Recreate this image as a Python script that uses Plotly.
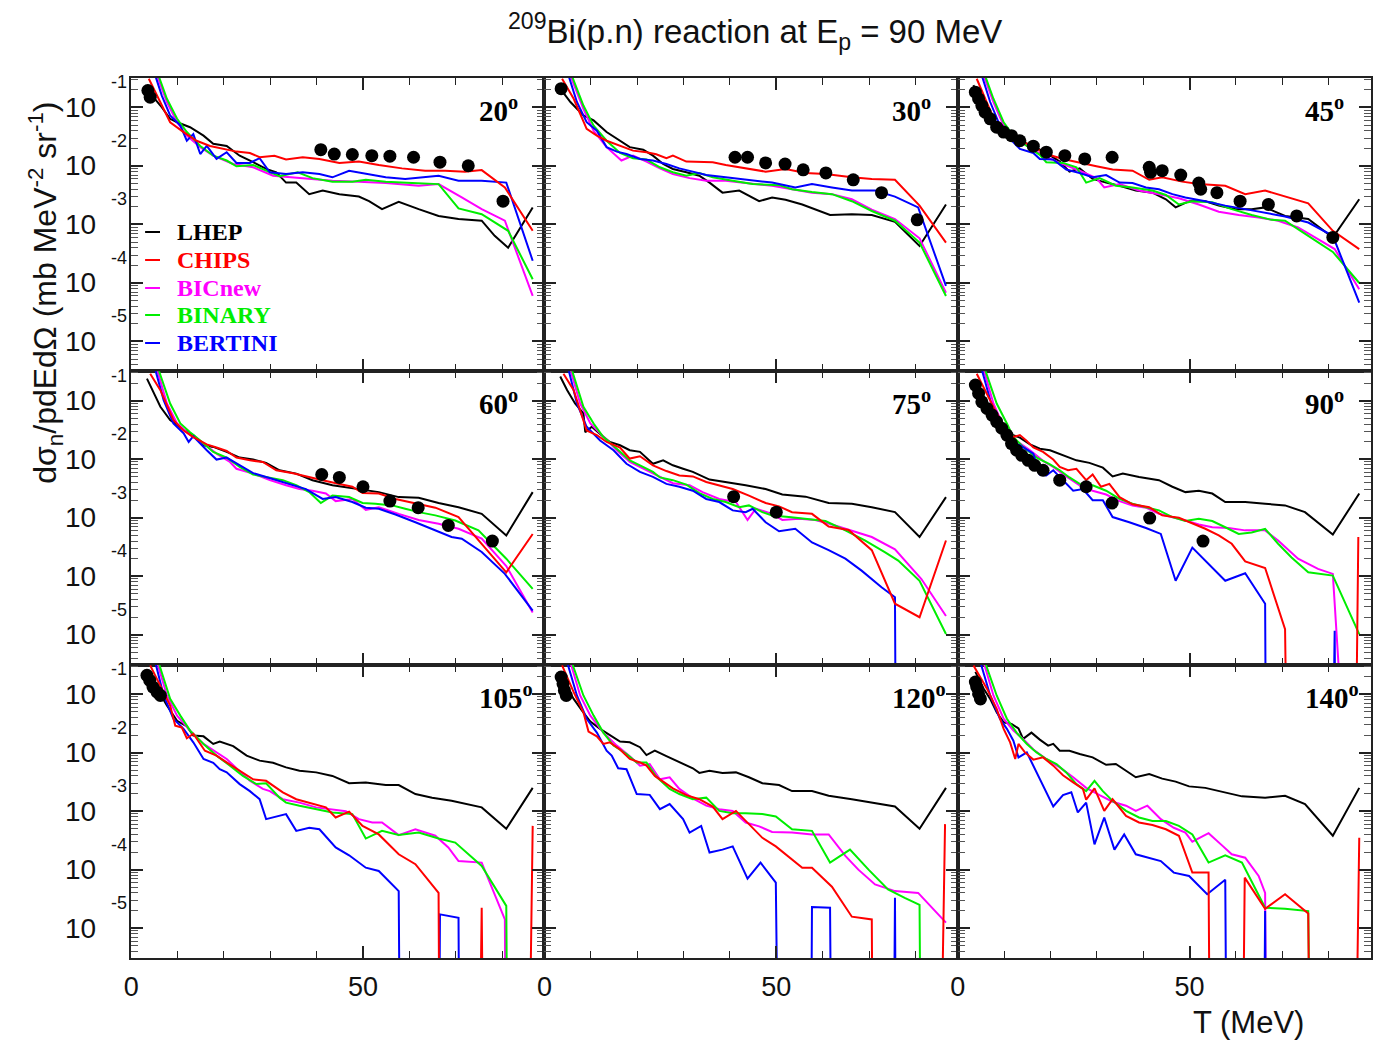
import plotly.graph_objects as go
from plotly.subplots import make_subplots

W, H = 1373, 1042
ZERO = 1e-9  # model gives no yield there (drawn below the axis, as in the original)

# ---------------- data: (T [MeV], d2sigma [mb MeV^-1 sr^-1]) ----------------
# 20 deg
LHEP_20 = [(3.4,0.24),(4.5,0.16),(6.3,0.108),(8.4,0.064),(9.9,0.056),(12.7,0.046),(15.6,0.033),(17.7,0.024),(20.6,0.022),(23.4,0.015),(26.3,0.0116),(29.1,0.0089),(31.3,0.0078),(33.4,0.0052),(35.6,0.0052),(38.4,0.0033),(41.3,0.0038),(44.9,0.0033),(49.1,0.0030),(51.3,0.0025),(54.1,0.00183),(57.7,0.00245),(62,0.00183),(66.3,0.0014),(70.6,0.00124),(75.6,0.00116),(78.4,0.00064),(81.3,0.0004),(86.6,0.00195)]
CHIPS_20 = [(3.8,0.31),(5.6,0.16),(8.4,0.056),(11.3,0.038),(14.1,0.027),(17,0.022),(19.9,0.0196),(22.7,0.0176),(25.6,0.0167),(27.7,0.0141),(30.9,0.015),(33.4,0.0129),(37,0.0141),(40.6,0.0132),(44.9,0.0113),(49.1,0.0119),(53.4,0.0104),(58.4,0.0091),(63.4,0.0083),(67.7,0.0083),(72,0.008),(75.6,0.0085),(80.6,0.0043),(86.6,0.00078)]
BIC_20 = [(5.6,0.35),(7.7,0.124),(9.9,0.056),(12,0.033),(14.9,0.021),(17.7,0.015),(22,0.0108),(26.3,0.0095),(30.6,0.0068),(34.9,0.0064),(39.1,0.006),(43.4,0.0056),(49.1,0.0054),(54.9,0.0051),(62,0.0046),(66.3,0.0049),(71.3,0.0029),(75.6,0.00183),(80.6,0.00116),(86.6,0.00006)]
BINARY_20 = [(5.9,0.35),(7.7,0.141),(9.9,0.064),(12,0.038),(14.9,0.022),(17.7,0.015),(20.6,0.0124),(22.7,0.0099),(26.3,0.0104),(29.1,0.0083),(32,0.0067),(35.9,0.0078),(39.1,0.0062),(43.4,0.0054),(47.7,0.0054),(50.6,0.0058),(54.9,0.0054),(60.6,0.0051),(66.3,0.0049),(70.6,0.00188),(75.6,0.0015),(81.3,0.00078),(86.6,0.000116)]
BERTINI_20 = [(5.2,0.35),(6.6,0.16),(8.4,0.073),(10.6,0.049),(12,0.027),(13.4,0.035),(14.9,0.016),(16.3,0.022),(18.4,0.0132),(20.6,0.0172),(22.7,0.0113),(25.6,0.0113),(27.7,0.0136),(29.9,0.0078),(33.4,0.0073),(37,0.0078),(40.6,0.0073),(43.4,0.0064),(47,0.0083),(50.6,0.0073),(54.9,0.0064),(59.1,0.006),(66.3,0.0068),(70.6,0.0056),(75.6,0.0056),(80.9,0.0052),(86.6,0.00024)]
EXP_20 = [(3.6,0.195),(4.1,0.15),(40.9,0.019),(43.8,0.016),(47.7,0.0157),(51.9,0.015),(55.8,0.0147),(60.9,0.0141),(66.6,0.0116),(72.7,0.0101),(80.2,0.0025)]

# 30 deg
LHEP_30 = [(3.4,0.21),(5.6,0.124),(8.4,0.073),(10.6,0.06),(13.4,0.038),(16.3,0.027),(18.4,0.021),(21.3,0.019),(23.4,0.015),(25.6,0.0108),(27.7,0.0089),(30.6,0.0078),(33.4,0.0068),(35.6,0.0052),(38.4,0.0035),(42,0.0038),(46.3,0.0025),(49.1,0.0029),(52,0.00265),(55.6,0.0022),(58.4,0.00183),(61.6,0.00145),(66.3,0.0015),(70.6,0.00145),(75.6,0.00111),(80.9,0.00043),(86.6,0.0022)]
CHIPS_30 = [(3.8,0.31),(6.3,0.141),(9.1,0.043),(11.3,0.033),(13.4,0.027),(16.3,0.0218),(19.1,0.0183),(22,0.0172),(24.1,0.0159),(26.3,0.0136),(27.7,0.015),(30.6,0.0119),(33.4,0.0116),(36.3,0.0116),(39.1,0.0104),(43.4,0.0091),(47.7,0.008),(52,0.0089),(56.3,0.0076),(60.6,0.0073),(66.3,0.0064),(70.6,0.006),(75.6,0.0058),(80.9,0.0021),(86.6,0.00049)]
BIC_30 = [(5.6,0.35),(8.4,0.095),(10.6,0.04),(13.4,0.021),(16.6,0.0124),(19.1,0.015),(22,0.0119),(24.9,0.0091),(27.7,0.0073),(31.3,0.0062),(34.9,0.0056),(39.1,0.0056),(43.4,0.0051),(49.1,0.0046),(53.4,0.004),(57.7,0.0035),(62,0.0033),(66.3,0.0027),(70.6,0.00179),(75.6,0.00124),(80.9,0.00058),(86.6,0.000068)]
BINARY_30 = [(5.9,0.35),(8.4,0.108),(10.6,0.049),(13.4,0.027),(16.3,0.0167),(19.1,0.0136),(22,0.0129),(24.9,0.0095),(27.7,0.0078),(30.6,0.0068),(33.4,0.0076),(36.3,0.0064),(40.6,0.0056),(44.9,0.0049),(50.6,0.0047),(53.4,0.004),(57.7,0.0036),(62,0.0033),(66.3,0.0025),(70.6,0.0017),(75.6,0.00116),(80.9,0.00049),(86.6,0.00006)]
BERTINI_30 = [(5.2,0.35),(7,0.124),(9.1,0.056),(11.3,0.04),(13.4,0.021),(15.6,0.0176),(17.7,0.016),(20.6,0.0132),(23.4,0.0124),(26.3,0.0108),(29.1,0.0091),(32,0.008),(34.9,0.007),(39.1,0.0064),(43.4,0.0058),(49.1,0.0052),(54.1,0.0043),(57.7,0.0049),(62,0.0043),(66.3,0.0038),(71.3,0.0038),(75.6,0.003),(80.6,0.00196),(86.6,0.000089)]
EXP_30 = [(3.6,0.21),(41.1,0.0141),(43.8,0.0141),(47.7,0.0113),(51.9,0.0108),(55.8,0.0086),(60.7,0.0076),(66.6,0.0058),(72.7,0.0035),(80.4,0.0012)]

# 45 deg
LHEP_45 = [(3.4,0.24),(4.9,0.124),(6.3,0.073),(8.4,0.043),(10.6,0.03),(13.4,0.027),(16.3,0.0218),(19.1,0.0167),(22,0.0119),(24.1,0.008),(26.3,0.0091),(29.1,0.006),(32,0.0052),(34.9,0.0046),(38.4,0.0038),(42,0.0035),(44.9,0.0027),(47,0.00196),(49.9,0.0025),(53.4,0.0025),(56.3,0.0021),(59.9,0.00183),(63.4,0.00183),(66.3,0.00196),(70.6,0.0014),(75.6,0.00124),(80.9,0.0006),(86.6,0.0027)]
CHIPS_45 = [(4.1,0.31),(6.3,0.124),(8.4,0.049),(9.9,0.035),(12,0.033),(13.4,0.028),(16.3,0.021),(19.1,0.016),(22.7,0.0132),(26.3,0.0113),(29.9,0.0099),(33.4,0.0087),(37.7,0.0083),(41.3,0.0058),(44.1,0.0064),(48.4,0.0054),(52,0.0049),(57.7,0.0046),(62,0.0033),(66.3,0.0038),(70.6,0.003),(75.6,0.0023),(80.9,0.00078),(86.6,0.00038)]
BIC_45 = [(5.6,0.35),(7.7,0.124),(9.9,0.049),(12.7,0.029),(15.6,0.021),(18.4,0.015),(22,0.0113),(26.3,0.0083),(29.9,0.0062),(31.6,0.0043),(34.9,0.0049),(39.1,0.0038),(43.4,0.0033),(47.7,0.0028),(52,0.0022),(56.3,0.00165),(60.6,0.00145),(64.9,0.00132),(69.1,0.00116),(73.4,0.00089),(77.7,0.00056),(81.3,0.00038),(86.6,0.000078)]
BINARY_45 = [(5.9,0.35),(7.7,0.141),(9.9,0.056),(12,0.033),(14.9,0.022),(17.7,0.0155),(19.1,0.0116),(22.7,0.0113),(25.6,0.0095),(27.7,0.0052),(30.6,0.0062),(34.1,0.0046),(37.7,0.0043),(42,0.0038),(44.9,0.0032),(47.7,0.0022),(50.6,0.0025),(54.9,0.0024),(59.1,0.00183),(63.4,0.00145),(67.7,0.0012),(70.6,0.00116),(75.6,0.00064),(80.9,0.00034),(86.6,0.0001)]
BERTINI_45 = [(5.2,0.35),(7,0.124),(9.1,0.049),(11.3,0.029),(13.4,0.0196),(16.3,0.0167),(17.7,0.0132),(20.6,0.0129),(23.4,0.0087),(26.3,0.0076),(29.1,0.0064),(32,0.007),(34.9,0.0052),(37.7,0.0051),(40.6,0.0043),(43.4,0.004),(46.3,0.0033),(49.1,0.0029),(53.4,0.0025),(57.7,0.0021),(62,0.00183),(66.3,0.0016),(70.6,0.00137),(75.6,0.00108),(80.9,0.00064),(86.6,0.000046)]
EXP_45 = [(3.8,0.183),(4.5,0.141),(5.2,0.108),(5.9,0.083),(7,0.064),(8.4,0.046),(9.9,0.038),(11.6,0.033),(13.4,0.027),(16.3,0.0218),(19.1,0.0172),(23.1,0.015),(27.4,0.0132),(33.3,0.0141),(41.3,0.0095),(41.6,0.0078),(44.1,0.0083),(48.1,0.007),(52,0.0051),(52.4,0.004),(55.9,0.0035),(60.9,0.0025),(67,0.0022),(73.1,0.0014),(80.9,0.0006)]

# 60 deg
LHEP_60 = [(3.4,0.24),(4.9,0.134),(6.3,0.079),(8.4,0.047),(11.3,0.032),(13.4,0.026),(15.6,0.0174),(17.7,0.0163),(20.6,0.0134),(23.4,0.0107),(26.3,0.0099),(29.1,0.0087),(32,0.0065),(35.6,0.0057),(39.1,0.0044),(43.4,0.0036),(49.1,0.0031),(53.4,0.00275),(57.7,0.00226),(62,0.0022),(66.3,0.00179),(70.6,0.00152),(75.6,0.00117),(80.9,0.0005),(86.6,0.00275)]
CHIPS_60 = [(4.1,0.29),(6.3,0.152),(9.1,0.047),(11.3,0.031),(13.4,0.024),(16.3,0.018),(18.4,0.0159),(20.6,0.0139),(22.7,0.0107),(25.6,0.0096),(28.4,0.009),(31.3,0.0065),(34.9,0.0058),(37.7,0.0051),(41.3,0.0044),(44.9,0.0038),(47.7,0.0034),(49.9,0.00265),(53.4,0.0026),(57,0.0021),(61.3,0.00179),(65.6,0.00149),(70.6,0.00103),(75.6,0.00036),(80.9,0.000117),(86.6,0.00053)]
BIC_60 = [(5.6,0.34),(7.7,0.09),(9.9,0.041),(12.7,0.026),(15.6,0.0186),(18.4,0.0125),(21.3,0.009),(22.7,0.0069),(26.3,0.0057),(29.9,0.0044),(33.4,0.0036),(36.3,0.0031),(39.1,0.0029),(42,0.0026),(44.1,0.00193),(47.7,0.0021),(50.6,0.00137),(53.4,0.00152),(57.7,0.00117),(62,0.00092),(66.3,0.00079),(70.6,0.00065),(75.6,0.00044),(80.9,0.00015),(86.6,0.000024)]
BINARY_60 = [(5.9,0.34),(8.4,0.09),(10.6,0.041),(12.7,0.029),(14.9,0.021),(17.7,0.0134),(20.6,0.0107),(23.4,0.0074),(26.3,0.0055),(29.1,0.005),(32.7,0.0044),(35.6,0.0036),(38.4,0.00275),(40.9,0.00179),(43.4,0.0024),(47,0.00226),(49.9,0.00179),(52.7,0.00174),(56.3,0.00163),(59.1,0.00143),(62,0.00125),(65.6,0.0011),(69.9,0.0009),(74.9,0.00061),(80.9,0.0002),(86.6,0.000061)]
BERTINI_60 = [(5.2,0.34),(7,0.103),(9.1,0.041),(11.3,0.028),(12.4,0.0198),(13.4,0.0248),(16.3,0.0143),(18.4,0.0099),(20.6,0.0107),(23.4,0.0079),(26.3,0.0058),(29.1,0.005),(32,0.0043),(34.9,0.0036),(37.7,0.0031),(41.3,0.0021),(44.1,0.00226),(47.7,0.00186),(50.6,0.00149),(53.4,0.00143),(57,0.00114),(61.3,0.00084),(65.6,0.00061),(69.1,0.00047),(71.3,0.00044),(75.6,0.00026),(80.6,0.00011),(86.6,0.000026)]
EXP_60 = [(41.1,0.0055),(44.9,0.0049),(50,0.0034),(55.8,0.00193),(61.9,0.00149),(68.4,0.00074),(77.9,0.0004)]

# 75 deg
LHEP_75 = [(3.4,0.26),(4.9,0.152),(6.6,0.09),(8.4,0.061),(8.8,0.029),(10.2,0.036),(12,0.027),(14.1,0.0198),(16.3,0.0174),(18.4,0.0143),(20.6,0.0134),(23.4,0.0084),(25.6,0.0096),(27.7,0.0079),(29.9,0.0069),(32,0.0061),(35.6,0.0045),(39.1,0.0041),(43.4,0.0036),(47.7,0.0031),(51.3,0.0025),(56.3,0.0023),(61.3,0.00179),(66.3,0.00174),(70.6,0.00152),(75.6,0.00125),(80.9,0.00047),(86.6,0.00226)]
CHIPS_75 = [(4.1,0.29),(6.3,0.152),(9.1,0.031),(11.3,0.026),(13.4,0.0198),(16.3,0.0159),(18.4,0.0103),(20.6,0.0113),(23.4,0.0079),(26.3,0.0063),(29.1,0.0053),(32,0.0051),(34.9,0.0041),(37.7,0.0036),(40.6,0.0031),(44.1,0.0024),(47.7,0.00179),(50.6,0.00157),(53.4,0.00125),(57.7,0.00117),(61.3,0.00071),(65.6,0.00062),(70.6,0.00028),(75.6,0.000034),(80.9,0.00002),(86.6,0.00041)]
BIC_75 = [(5.6,0.34),(7.7,0.09),(9.9,0.041),(12.7,0.024),(15.6,0.0143),(18.4,0.009),(21.3,0.0069),(24.9,0.005),(27.7,0.0039),(31.3,0.0036),(34.1,0.00275),(37.7,0.0021),(41.3,0.00186),(43.8,0.00092),(45.6,0.00143),(49.1,0.00117),(51.3,0.00092),(54.9,0.00096),(58.4,0.00092),(62,0.00077),(66.3,0.00061),(70.6,0.00047),(75.6,0.00029),(81.3,0.00009),(86.6,0.000021)]
BINARY_75 = [(5.9,0.34),(8.4,0.079),(10.6,0.041),(12.7,0.024),(15.6,0.0152),(18.4,0.0096),(20.6,0.0079),(23.4,0.0061),(24.9,0.0049),(27.7,0.0044),(30.6,0.0037),(33.4,0.00265),(36.3,0.0021),(39.1,0.00186),(42,0.00152),(44.1,0.00163),(47,0.00125),(49.1,0.0011),(52.7,0.00103),(56.3,0.00096),(60.6,0.00088),(64.9,0.00061),(69.1,0.00041),(73.4,0.00026),(76.3,0.000186),(80.9,0.000084),(86.6,0.0000103)]
BERTINI_75 = [(5.2,0.34),(7,0.09),(9.1,0.036),(12,0.021),(14.9,0.0143),(17.7,0.0084),(20.6,0.0061),(23.4,0.005),(26.3,0.0038),(29.1,0.0034),(32,0.0029),(34.9,0.0021),(37.7,0.00186),(40.6,0.00134),(43.4,0.00125),(44.9,0.00143),(47.7,0.00084),(50.6,0.00059),(54.1,0.00065),(57.7,0.00038),(61.3,0.00028),(64.9,0.0002),(68.4,0.000125),(72.7,0.000065),(75.6,0.000044),(75.9,ZERO)]
EXP_75 = [(40.8,0.0023),(50,0.00125)]

# 90 deg
LHEP_90 = [(3.4,0.23),(5.6,0.117),(8.4,0.047),(11.3,0.027),(13.4,0.0235),(15.6,0.018),(17.7,0.0152),(19.9,0.0143),(22.7,0.0117),(25.6,0.0096),(28.4,0.0087),(31.3,0.0072),(33.4,0.0051),(35.6,0.0057),(39.1,0.005),(43.4,0.0044),(46.3,0.0034),(49.1,0.00275),(52,0.0029),(54.9,0.0026),(57.7,0.00186),(62,0.00186),(66.3,0.00174),(70.6,0.00163),(74.9,0.00125),(80.9,0.00052),(86.6,0.0026)]
CHIPS_90 = [(4.1,0.29),(6.3,0.134),(8.4,0.061),(10.6,0.031),(12,0.024),(13.4,0.026),(14.9,0.0206),(16.3,0.0159),(18.4,0.0134),(20.6,0.0099),(22,0.0074),(23.8,0.0065),(25.6,0.0069),(27.7,0.0044),(29.1,0.0055),(30.9,0.0034),(32.7,0.0038),(34.9,0.00226),(37.7,0.0017),(41.3,0.00152),(44.1,0.0011),(47.7,0.001),(50.6,0.00081),(53.4,0.00065),(56.3,0.0005),(59.1,0.00036),(62,0.00018),(66.3,0.000139),(70.6,0.0000125),(71.3,ZERO),(85.6,ZERO),(86.4,0.00047)]
BIC_90 = [(5.6,0.34),(7.7,0.09),(9.9,0.036),(12.7,0.0206),(15.6,0.0143),(18.4,0.0094),(20.6,0.0074),(23.4,0.0051),(26.3,0.0036),(29.1,0.0029),(32,0.0025),(34.9,0.00193),(37.7,0.00163),(40.6,0.00149),(43.4,0.00117),(46.3,0.00103),(49.1,0.0009),(52,0.00077),(54.9,0.00069),(58.4,0.00067),(62,0.00061),(66.3,0.00061),(69.1,0.00041),(73.4,0.0002),(77.7,0.000134),(80.9,0.00011),(84.9,ZERO)]
BINARY_90 = [(5.9,0.34),(8.4,0.09),(10.6,0.041),(12,0.024),(14.1,0.0163),(17,0.0107),(19.9,0.0082),(22,0.0065),(24.1,0.0049),(26.3,0.0038),(29.1,0.0036),(32,0.0029),(34.9,0.0021),(37.7,0.00174),(40.6,0.00152),(43.4,0.00134),(46.3,0.00103),(49.1,0.00088),(52,0.00096),(54.9,0.00088),(57.7,0.00069),(60.6,0.00053),(63.4,0.00056),(66.3,0.00065),(69.1,0.00036),(72,0.00021),(75.6,0.000117),(80.9,0.000103),(86.6,0.0000103)]
BERTINI_90 = [(5.2,0.34),(7,0.103),(9.1,0.036),(11.3,0.0198),(13.4,0.0174),(16.3,0.0125),(17.7,0.0055),(19.1,0.0053),(20.6,0.0065),(22.7,0.0044),(24.9,0.0029),(27,0.0031),(29.1,0.002),(31.3,0.002),(33.4,0.00103),(37,0.00084),(40.6,0.00067),(43.8,0.00053),(47,0.000084),(50.6,0.00031),(53.4,0.000186),(57.7,0.000084),(62,0.000113),(66.3,0.000034),(66.6,ZERO),(80.6,ZERO),(81.3,0.0000117),(81.6,ZERO)]
EXP_90 = [(3.8,0.186),(4.5,0.134),(5.2,0.096),(6.3,0.074),(7.4,0.057),(8.4,0.044),(9.5,0.034),(10.6,0.026),(11.6,0.0186),(12.7,0.0143),(13.8,0.0117),(15.2,0.0096),(16.6,0.0079),(18.4,0.0065),(22,0.0044),(27.7,0.0034),(33.3,0.00179),(41.4,0.00099),(52.9,0.0004)]

# 105 deg
LHEP_105 = [(3.8,0.24),(5.6,0.124),(7.7,0.064),(9.9,0.035),(12,0.028),(13.4,0.0196),(15.6,0.019),(17.7,0.0141),(19.1,0.0155),(22,0.0129),(24.9,0.0089),(27.7,0.0073),(30.6,0.0067),(33.4,0.0056),(36.3,0.0049),(39.9,0.0046),(43.4,0.004),(47,0.003),(50.6,0.0031),(54.9,0.0028),(57.7,0.0028),(61.3,0.00196),(64.9,0.0017),(69.1,0.0015),(75.6,0.00116),(80.9,0.0005),(86.6,0.0025)]
CHIPS_105 = [(4.1,0.31),(6.3,0.141),(8.4,0.064),(9.5,0.029),(10.9,0.027),(12,0.0176),(13.4,0.021),(15.9,0.0108),(18.4,0.0089),(20.6,0.0068),(23.4,0.0049),(26.3,0.0035),(29.1,0.0033),(32.7,0.0021),(35.6,0.0016),(39.1,0.00132),(42,0.00116),(44.1,0.00078),(47,0.00098),(49.9,0.00056),(53.4,0.0004),(57.7,0.000183),(61.3,0.000124),(66.3,0.00004),(66.6,ZERO),(74.9,ZERO),(75.6,0.0000223),(76.1,ZERO),(85.6,ZERO),(86.6,0.00056)]
BIC_105 = [(5.6,0.35),(7.7,0.095),(9.9,0.043),(12.7,0.0238),(15.6,0.0141),(18.4,0.0101),(20.6,0.0078),(22.7,0.0054),(25.6,0.0033),(28.4,0.0024),(29.9,0.0022),(32.7,0.0016),(36.3,0.0014),(39.9,0.00116),(43.4,0.00108),(46.3,0.001),(49.1,0.00073),(52,0.00064),(54.1,0.00064),(57.7,0.00039),(61.3,0.00049),(65.6,0.00038),(68.4,0.00024),(70.6,0.00014),(75.6,0.000132),(80.6,0.0000141),(80.9,ZERO)]
BINARY_105 = [(5.9,0.35),(8.4,0.083),(10.6,0.043),(12.7,0.0238),(15.6,0.0141),(18.4,0.0089),(21.3,0.006),(24.1,0.004),(27,0.0029),(29.1,0.003),(32,0.0017),(33.4,0.0014),(36.3,0.00124),(39.9,0.00108),(43.4,0.00095),(47.7,0.00089),(50.6,0.00034),(54.1,0.00046),(57.7,0.00039),(62,0.00043),(66.3,0.00034),(69.9,0.00029),(75.6,0.000116),(80.9,0.000024),(81.3,ZERO)]
BERTINI_105 = [(5.2,0.35),(7,0.095),(9.1,0.038),(11.3,0.0255),(13.4,0.015),(15.6,0.0078),(17.7,0.0067),(19.1,0.0052),(20.6,0.0046),(23.4,0.0029),(25.6,0.0022),(27.7,0.0016),(29.1,0.00073),(31.3,0.00081),(33.4,0.00089),(35.6,0.00046),(38.4,0.00052),(40.6,0.00049),(44.1,0.00024),(47,0.000176),(50.6,0.000108),(53.4,0.000095),(57.7,0.000043),(58.1,ZERO),(66.3,ZERO),(66.6,0.0000172),(70.6,0.000015),(70.9,ZERO)]
EXP_105 = [(3.4,0.21),(4,0.172),(4.7,0.132),(5.6,0.108),(6.3,0.095)]

# 120 deg
LHEP_120 = [(3.4,0.21),(6.3,0.083),(8.1,0.052),(9.9,0.034),(12,0.0255),(14.1,0.0201),(16.3,0.0155),(18.4,0.015),(20.6,0.0124),(22,0.0091),(23.8,0.0108),(26.3,0.0087),(29.1,0.0068),(32,0.0054),(33.4,0.0045),(35.6,0.0049),(38.4,0.0045),(41.3,0.0046),(44.1,0.0038),(47,0.003),(50.6,0.0028),(53.4,0.0022),(57.7,0.0022),(61.3,0.00183),(66.3,0.0016),(70.6,0.0014),(75.6,0.0012),(80.9,0.0005),(86.6,0.0025)]
CHIPS_120 = [(3.8,0.31),(6.3,0.108),(8.4,0.049),(9.5,0.0229),(11.3,0.019),(12.7,0.0141),(14.1,0.015),(16.3,0.0113),(18.4,0.0078),(20.6,0.0068),(22,0.006),(23.8,0.004),(25.6,0.0032),(27.7,0.00245),(30.6,0.00188),(33.4,0.0016),(36.3,0.0012),(38.4,0.00073),(41.3,0.00101),(44.1,0.0006),(47,0.00035),(49.9,0.00025),(53.4,0.00015),(55.6,0.000108),(57.7,0.000108),(62,0.000051),(66.3,0.0000157),(70.6,0.0000141),(70.9,ZERO),(85.2,ZERO),(86.4,0.0006)]
BIC_120 = [(5.6,0.35),(7.7,0.095),(9.9,0.043),(12.7,0.022),(15.6,0.0132),(18.4,0.0087),(20.6,0.006),(22.7,0.0064),(24.9,0.0035),(27,0.0038),(29.1,0.0024),(32,0.00165),(34.9,0.00124),(37.7,0.00108),(40.6,0.00101),(43.4,0.00064),(46.3,0.00055),(49.1,0.00044),(53.4,0.00043),(57.7,0.0004),(61.3,0.0004),(64.9,0.000172),(67.7,0.0001),(71.3,0.000056),(75.6,0.000043),(80.6,0.00004),(86.6,0.0000124)]
BINARY_120 = [(5.9,0.35),(8.4,0.095),(10.6,0.043),(12.7,0.022),(14.9,0.0132),(17.7,0.0095),(19.9,0.0068),(22,0.0068),(24.1,0.0039),(27,0.0024),(29.1,0.00196),(32,0.0016),(34.9,0.0017),(37.7,0.00101),(40.6,0.00092),(43.4,0.00092),(47,0.00089),(49.9,0.00081),(53.4,0.00049),(57.7,0.00046),(61.6,0.000132),(65.9,0.00022),(69.9,0.0001),(74.1,0.000046),(77.7,0.000033),(80.9,0.000025),(81.3,ZERO)]
BERTINI_120 = [(4.9,0.35),(7,0.095),(9.1,0.038),(11.3,0.022),(13.4,0.0108),(14.5,0.0089),(15.9,0.0054),(17.7,0.0052),(19.9,0.00196),(22.7,0.0019),(24.9,0.00108),(27,0.00132),(29.9,0.00073),(31.3,0.00043),(33.8,0.00056),(35.6,0.000196),(38.4,0.00022),(40.6,0.00025),(43.8,0.00007),(46.6,0.000132),(49.9,0.00006),(50.6,ZERO),(57.4,ZERO),(57.7,0.000023),(61.6,0.0000223),(62,ZERO),(75.2,ZERO),(75.6,0.000033),(75.9,ZERO)]
EXP_120 = [(3.6,0.196),(4,0.15),(4.3,0.116),(4.7,0.095)]

# 140 deg
LHEP_140 = [(3.8,0.24),(5.6,0.124),(7,0.083),(8.4,0.049),(9.9,0.033),(11.6,0.031),(13.1,0.026),(14.1,0.0172),(15.9,0.022),(17.7,0.0167),(19.5,0.0132),(20.6,0.0141),(22,0.0108),(24.1,0.0108),(26.3,0.0095),(29.1,0.0083),(32,0.0062),(34.1,0.0064),(36.3,0.0049),(38.4,0.0038),(41.3,0.0043),(44.1,0.0036),(47,0.0032),(49.9,0.00265),(53.4,0.0025),(57.7,0.0021),(61.3,0.00179),(66.3,0.0017),(70.6,0.00183),(74.9,0.00132),(80.9,0.00038),(86.6,0.0025)]
CHIPS_140 = [(3.4,0.31),(6.3,0.124),(8.4,0.056),(9.9,0.0255),(11.3,0.015),(12.4,0.0078),(13.1,0.0141),(14.5,0.0101),(16.3,0.0076),(18.4,0.0083),(20.6,0.006),(22.7,0.0041),(24.9,0.0031),(27,0.0024),(27.7,0.00157),(29.5,0.00245),(31.6,0.00101),(33.4,0.0016),(36.3,0.00083),(39.1,0.00064),(42,0.00058),(44.9,0.00049),(47.7,0.00038),(50.6,0.000089),(54.1,0.000089),(54.5,ZERO),(61.3,ZERO),(61.9,0.000073),(66.3,0.0000215),(70.6,0.000038),(75.6,0.0000179),(76.1,ZERO),(85.6,ZERO),(86.6,0.00035)]
BIC_140 = [(5.6,0.35),(7.7,0.095),(9.9,0.038),(12,0.0238),(14.1,0.0172),(16.3,0.0113),(19.1,0.0078),(22,0.0056),(24.9,0.0038),(27.7,0.0025),(30.6,0.00188),(33.4,0.00145),(36.3,0.00124),(38.4,0.00101),(40.9,0.00124),(43.8,0.00073),(46.6,0.00052),(49.1,0.00043),(50.6,0.0003),(54.1,0.00042),(57,0.00026),(59.1,0.000183),(62,0.00016),(64.9,0.000078),(66.3,0.00004),(66.6,ZERO)]
BINARY_140 = [(5.9,0.35),(8.4,0.095),(10.6,0.038),(12.7,0.022),(14.9,0.0141),(17,0.0101),(19.1,0.0078),(21.3,0.0064),(23.4,0.0046),(25.6,0.0029),(27.7,0.0022),(29.5,0.0033),(31.3,0.0022),(33.4,0.0015),(36.3,0.00101),(39.1,0.00078),(42,0.00068),(44.9,0.00068),(47.7,0.00056),(50.6,0.0004),(54.1,0.000132),(57.7,0.000176),(61.3,0.000132),(66.3,0.0000223),(70.6,0.0000215),(75.6,0.0000196),(76.3,ZERO)]
BERTINI_140 = [(4.9,0.35),(7,0.095),(9.1,0.038),(10.6,0.0255),(12,0.016),(13.1,0.0083),(14.9,0.0101),(16.3,0.006),(18.4,0.0029),(20.6,0.0012),(22.7,0.00188),(24.5,0.0021),(25.9,0.00095),(27.7,0.0014),(29.5,0.00027),(31.6,0.00078),(33.8,0.00022),(35.9,0.0004),(38.4,0.000183),(41.3,0.00016),(43.8,0.00014),(46.6,0.000089),(49.9,0.000078),(53.8,0.000038),(57.7,0.000067),(58.1,ZERO),(65.9,ZERO),(66.3,0.0000196),(66.6,ZERO)]
EXP_140 = [(3.8,0.161),(4.1,0.132),(4.5,0.101),(4.9,0.083)]

ANGLES = ["20", "30", "45", "60", "75", "90", "105", "120", "140"]
MODELS = ["LHEP", "CHIPS", "BICnew", "BINARY", "BERTINI"]
COLORS = {"LHEP": "#000000", "CHIPS": "#ff0000", "BICnew": "#ff00ff",
          "BINARY": "#00ee00", "BERTINI": "#0000ff"}
DRAW_ORDER = ["LHEP", "BICnew", "BINARY", "BERTINI", "CHIPS"]

PANELS = {
    "20": {"LHEP": LHEP_20, "CHIPS": CHIPS_20, "BICnew": BIC_20, "BINARY": BINARY_20, "BERTINI": BERTINI_20, "EXP": EXP_20},
    "30": {"LHEP": LHEP_30, "CHIPS": CHIPS_30, "BICnew": BIC_30, "BINARY": BINARY_30, "BERTINI": BERTINI_30, "EXP": EXP_30},
    "45": {"LHEP": LHEP_45, "CHIPS": CHIPS_45, "BICnew": BIC_45, "BINARY": BINARY_45, "BERTINI": BERTINI_45, "EXP": EXP_45},
    "60": {"LHEP": LHEP_60, "CHIPS": CHIPS_60, "BICnew": BIC_60, "BINARY": BINARY_60, "BERTINI": BERTINI_60, "EXP": EXP_60},
    "75": {"LHEP": LHEP_75, "CHIPS": CHIPS_75, "BICnew": BIC_75, "BINARY": BINARY_75, "BERTINI": BERTINI_75, "EXP": EXP_75},
    "90": {"LHEP": LHEP_90, "CHIPS": CHIPS_90, "BICnew": BIC_90, "BINARY": BINARY_90, "BERTINI": BERTINI_90, "EXP": EXP_90},
    "105": {"LHEP": LHEP_105, "CHIPS": CHIPS_105, "BICnew": BIC_105, "BINARY": BINARY_105, "BERTINI": BERTINI_105, "EXP": EXP_105},
    "120": {"LHEP": LHEP_120, "CHIPS": CHIPS_120, "BICnew": BIC_120, "BINARY": BINARY_120, "BERTINI": BERTINI_120, "EXP": EXP_120},
    "140": {"LHEP": LHEP_140, "CHIPS": CHIPS_140, "BICnew": BIC_140, "BINARY": BINARY_140, "BERTINI": BERTINI_140, "EXP": EXP_140},
}

Y_DECADES = [-1, -2, -3, -4, -5]

# ---------------- layout geometry ----------------
X_LEFT, PANEL_W = 124, 416
Y_TOP, PANEL_H = 78, 880 / 3
PX_PER_MEV = 4.667
PX_PER_DEC = 58.5
XMAX = PANEL_W / PX_PER_MEV
LOG_TOP = -0.496
LOG_BOT = LOG_TOP - PANEL_H / PX_PER_DEC

SANS = "Liberation Sans, Arial, Helvetica, sans-serif"
SERIF = "Liberation Serif, Times New Roman, serif"
AXC = "#222222"

fig = make_subplots(rows=3, cols=3, horizontal_spacing=0, vertical_spacing=0)

for i, ang in enumerate(ANGLES):
    r, c = i // 3 + 1, i % 3 + 1
    p = PANELS[ang]
    for m in DRAW_ORDER:
        pts = p[m]
        fig.add_trace(go.Scatter(x=[q[0] for q in pts], y=[q[1] for q in pts], mode="lines",
                                 line=dict(color=COLORS[m], width=2), name=m,
                                 showlegend=False, hoverinfo="skip"), row=r, col=c)
    pts = p["EXP"]
    fig.add_trace(go.Scatter(x=[q[0] for q in pts], y=[q[1] for q in pts], mode="markers",
                             marker=dict(color="black", size=13, line=dict(width=0)),
                             name="exp", showlegend=False, hoverinfo="skip"), row=r, col=c)

    x0 = X_LEFT + (c - 1) * PANEL_W
    yt = Y_TOP + (r - 1) * PANEL_H
    fig.update_xaxes(row=r, col=c,
                     domain=[x0 / W, (x0 + PANEL_W) / W], range=[0, XMAX],
                     showline=True, linecolor=AXC, linewidth=2, mirror="ticks",
                     ticks="inside", ticklen=12, tickwidth=1.5, tickcolor=AXC,
                     tick0=0, dtick=50,
                     minor=dict(ticks="inside", ticklen=7, tickwidth=1.2, tickcolor=AXC, dtick=10),
                     showgrid=False, zeroline=False,
                     showticklabels=(r == 3), ticklabelstandoff=4,
                     tickfont=dict(family=SANS, size=27, color="#111"))
    fig.update_yaxes(row=r, col=c, type="log",
                     domain=[1 - (yt + PANEL_H) / H, 1 - yt / H], range=[LOG_BOT, LOG_TOP],
                     showline=True, linecolor=AXC, linewidth=2, mirror="ticks",
                     ticks="inside", ticklen=12, tickwidth=1.5, tickcolor=AXC, dtick=1,
                     minor=dict(ticks="inside", ticklen=7, tickwidth=1, tickcolor="#555", dtick="D1"),
                     showgrid=False, zeroline=False, showticklabels=False)

    n = i + 1
    xr = "x" if n == 1 else f"x{n}"
    yr = "y" if n == 1 else f"y{n}"
    fig.add_annotation(text=f"<b>{ang}<sup>o</sup></b>", xref=f"{xr} domain", yref=f"{yr} domain",
                       x=348 / PANEL_W, y=1 - 31 / PANEL_H, xanchor="left", yanchor="middle",
                       showarrow=False, font=dict(family=SERIF, size=29, color="black"))

# y tick labels (10 with raised exponent), left column only
for r in range(3):
    yr = ["y", "y4", "y7"][r]
    for d in Y_DECADES:
        fig.add_annotation(text="10", xref="paper", yref=yr, x=91 / W, y=d, xanchor="right",
                           yanchor="middle", showarrow=False,
                           font=dict(family=SANS, size=28, color="#111"))
        fig.add_annotation(text=str(d), xref="paper", yref=yr, x=122 / W, y=d, yshift=25,
                           xanchor="right", yanchor="middle", showarrow=False,
                           font=dict(family=SANS, size=18, color="#111"))

# legend (inside the 20 deg panel)
LEG_Y = [232, 260, 288, 315, 343]
for m, py in zip(MODELS, LEG_Y):
    fig.add_shape(type="line", xref="paper", yref="paper", x0=138 / W, x1=153 / W,
                  y0=1 - py / H, y1=1 - py / H, line=dict(color=COLORS[m], width=2))
    fig.add_annotation(text=f"<b>{m}</b>", xref="paper", yref="paper", x=168 / W, y=1 - py / H,
                       xanchor="left", yanchor="middle", showarrow=False,
                       font=dict(family=SERIF, size=24, color=COLORS[m]))

# titles
fig.add_annotation(text="<sup>209</sup>Bi(p.n) reaction at E<sub>p</sub> = 90 MeV",
                   xref="paper", yref="paper", x=752 / W, y=1 - 32 / H,
                   xanchor="center", yanchor="middle", showarrow=False,
                   font=dict(family=SANS, size=33, color="#111"))
fig.add_annotation(text="dσ<sub>n</sub>/pdEdΩ (mb MeV<sup>-2</sup> sr<sup>-1</sup>)",
                   xref="paper", yref="paper", x=38 / W, y=1 - 293 / H, textangle=-90,
                   xanchor="center", yanchor="middle", showarrow=False,
                   font=dict(family=SANS, size=32, color="#111"))
fig.add_annotation(text="T (MeV)", xref="paper", yref="paper", x=1249 / W, y=1 - 1022 / H,
                   xanchor="center", yanchor="middle", showarrow=False,
                   font=dict(family=SANS, size=31, color="#111"))

fig.update_layout(width=W, height=H, margin=dict(l=0, r=0, t=0, b=0),
                  plot_bgcolor="white", paper_bgcolor="white", showlegend=False)

fig.write_html("out.html")
